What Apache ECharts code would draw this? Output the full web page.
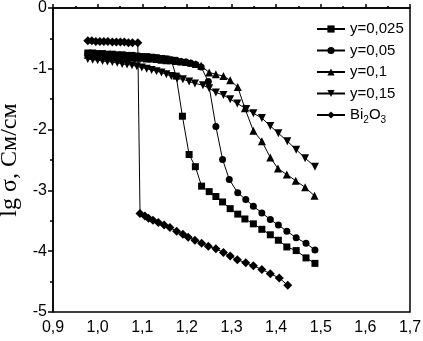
<!DOCTYPE html>
<html>
<head>
<meta charset="utf-8">
<script src="https://cdn.jsdelivr.net/npm/echarts@6/dist/echarts.min.js"></script>
<style>html,body{margin:0;padding:0;background:#fff}#c{width:423px;height:341px}</style>
</head>
<body>
<div id="c"></div>
<script>
const seriesNames = ['y=0,025', 'y=0,05', 'y=0,1', 'y=0,15', 'Bi2O3'];
const xTickLabels = ['0,9', '1,0', '1,1', '1,2', '1,3', '1,4', '1,5', '1,6', '1,7'];

const x025 = [0.978, 0.989, 1.000, 1.011, 1.022, 1.033, 1.044, 1.055, 1.066, 1.077, 1.088, 1.099, 1.110, 1.121, 1.132, 1.143, 1.154, 1.165, 1.176, 1.190, 1.205, 1.219, 1.233, 1.250, 1.265, 1.280, 1.297, 1.314, 1.330, 1.349, 1.368, 1.387, 1.405, 1.424, 1.445, 1.467, 1.487];
const y025 = [-0.74, -0.74, -0.75, -0.75, -0.76, -0.76, -0.77, -0.77, -0.78, -0.78, -0.79, -0.80, -0.80, -0.81, -0.82, -0.83, -0.84, -0.86, -1.12, -1.78, -2.41, -2.61, -2.93, -3.02, -3.10, -3.19, -3.30, -3.39, -3.47, -3.55, -3.64, -3.73, -3.82, -3.93, -3.99, -4.11, -4.20];

const x05 = [0.978, 0.989, 1.000, 1.011, 1.022, 1.033, 1.044, 1.055, 1.066, 1.077, 1.088, 1.099, 1.110, 1.121, 1.132, 1.143, 1.154, 1.165, 1.176, 1.187, 1.198, 1.209, 1.220, 1.232, 1.248, 1.265, 1.280, 1.295, 1.314, 1.332, 1.349, 1.368, 1.387, 1.405, 1.424, 1.445, 1.467, 1.487];
const y05 = [-0.75, -0.75, -0.76, -0.76, -0.77, -0.77, -0.78, -0.78, -0.79, -0.79, -0.80, -0.80, -0.81, -0.82, -0.82, -0.83, -0.84, -0.85, -0.86, -0.88, -0.89, -0.91, -0.93, -0.97, -1.21, -1.95, -2.49, -2.82, -3.04, -3.15, -3.26, -3.37, -3.48, -3.57, -3.67, -3.78, -3.87, -3.98];

const x1 = [0.978, 0.989, 1.000, 1.011, 1.022, 1.033, 1.044, 1.055, 1.066, 1.077, 1.088, 1.099, 1.110, 1.121, 1.132, 1.143, 1.154, 1.165, 1.176, 1.187, 1.198, 1.209, 1.220, 1.232, 1.250, 1.265, 1.282, 1.297, 1.314, 1.330, 1.349, 1.368, 1.387, 1.404, 1.424, 1.444, 1.465, 1.486];
const y1 = [-0.77, -0.77, -0.78, -0.78, -0.79, -0.79, -0.80, -0.80, -0.81, -0.81, -0.82, -0.82, -0.83, -0.83, -0.84, -0.85, -0.86, -0.86, -0.87, -0.88, -0.89, -0.90, -0.92, -0.95, -1.06, -1.09, -1.12, -1.19, -1.30, -1.65, -2.02, -2.19, -2.46, -2.64, -2.74, -2.84, -2.95, -3.09];

const x15 = [0.978, 0.989, 1.000, 1.011, 1.022, 1.033, 1.044, 1.055, 1.066, 1.077, 1.088, 1.099, 1.110, 1.121, 1.132, 1.143, 1.154, 1.165, 1.178, 1.191, 1.205, 1.218, 1.236, 1.250, 1.265, 1.282, 1.297, 1.313, 1.333, 1.349, 1.368, 1.387, 1.405, 1.425, 1.445, 1.465, 1.487];
const y15 = [-0.84, -0.85, -0.86, -0.87, -0.88, -0.89, -0.90, -0.92, -0.93, -0.94, -0.96, -0.98, -1.00, -1.02, -1.04, -1.06, -1.09, -1.12, -1.16, -1.17, -1.21, -1.24, -1.27, -1.32, -1.39, -1.43, -1.50, -1.57, -1.66, -1.73, -1.81, -1.94, -2.06, -2.19, -2.33, -2.47, -2.61];

const xBi = [0.978, 0.987, 0.996, 1.005, 1.014, 1.023, 1.033, 1.042, 1.051, 1.060, 1.069, 1.078, 1.090, 1.095, 1.106, 1.114, 1.124, 1.136, 1.149, 1.162, 1.177, 1.191, 1.203, 1.218, 1.233, 1.248, 1.265, 1.282, 1.297, 1.313, 1.332, 1.349, 1.368, 1.387, 1.407, 1.426];
const yBi = [-0.54, -0.54, -0.55, -0.55, -0.55, -0.55, -0.56, -0.56, -0.56, -0.56, -0.57, -0.57, -0.57, -3.38, -3.42, -3.46, -3.49, -3.53, -3.57, -3.61, -3.67, -3.72, -3.77, -3.82, -3.87, -3.92, -3.96, -4.02, -4.08, -4.14, -4.19, -4.24, -4.30, -4.37, -4.44, -4.56];

function zip(xs, ys) { return xs.map((v, i) => [v, ys[i]]); }

const chart = echarts.init(document.getElementById('c'), null, { renderer: 'canvas' });
const common = {
  type: 'line',
  color: '#000',
  lineStyle: { color: '#000', width: 1 },
  itemStyle: { color: '#000' },
  emphasis: { disabled: true }
};
chart.setOption({
  animation: false,
  backgroundColor: '#fff',
  grid: { left: 53, right: 13, top: 8, bottom: 29, show: true, borderColor: '#000', borderWidth: 1.5, outerBoundsMode: 'none' },
  legend: {
    orient: 'vertical',
    left: 311,
    top: 13,
    itemWidth: 28,
    itemHeight: 9,
    itemGap: -0.5,
    data: seriesNames,
    lineStyle: { width: 2 },
    formatter: function (n) { return n === 'Bi2O3' ? 'Bi{s|2}O{s|3}' : n; },
    textStyle: {
      fontFamily: 'Liberation Sans, Arial, sans-serif',
      fontSize: 15,
      color: '#000',
      lineHeight: 22,
      rich: { s: { fontSize: 10, fontFamily: 'Liberation Sans, Arial, sans-serif', color: '#000', padding: [10, 0, 0, 0] } }
    }
  },
  xAxis: {
    type: 'value', min: 0.9, max: 1.7, interval: 0.1,
    axisLine: { lineStyle: { color: '#000', width: 1.5 } },
    axisTick: { inside: true, length: 4, lineStyle: { color: '#000', width: 1.5 } },
    minorTick: { show: true, splitNumber: 2, length: 2, lineStyle: { color: '#000', width: 1.5 } },
    splitLine: { show: false },
    axisLabel: {
      color: '#000', fontSize: 16, fontFamily: 'Liberation Sans, Arial, sans-serif', margin: 8,
      formatter: function (v, i) { return xTickLabels[i]; }
    }
  },
  yAxis: {
    type: 'value', min: -5, max: 0, interval: 1,
    name: 'lg σ, См/см',
    nameLocation: 'middle',
    nameGap: 25,
    nameTextStyle: { fontFamily: 'Liberation Serif, Times New Roman, serif', fontSize: 24, color: '#000' },
    axisLine: { lineStyle: { color: '#000', width: 1.5 } },
    axisTick: { inside: false, length: 5, lineStyle: { color: '#000', width: 1.5 } },
    minorTick: { show: true, splitNumber: 2, length: 3, lineStyle: { color: '#000', width: 1.5 } },
    splitLine: { show: false },
    axisLabel: { color: '#000', fontSize: 16, fontFamily: 'Liberation Sans, Arial, sans-serif', margin: 6 }
  },
  series: [
    Object.assign({}, common, { name: seriesNames[0], data: zip(x025, y025), symbol: 'rect', symbolSize: 7 }),
    Object.assign({}, common, { name: seriesNames[1], data: zip(x05, y05), symbol: 'circle', symbolSize: 7 }),
    Object.assign({}, common, { name: seriesNames[2], data: zip(x1, y1), symbol: 'triangle', symbolSize: 8 }),
    Object.assign({}, common, { name: seriesNames[3], data: zip(x15, y15), symbol: 'triangle', symbolRotate: 180, symbolSize: 8 }),
    Object.assign({}, common, { name: seriesNames[4], data: zip(xBi, yBi), symbol: 'diamond', symbolSize: [9, 9] })
  ]
});
</script>
</body>
</html>
